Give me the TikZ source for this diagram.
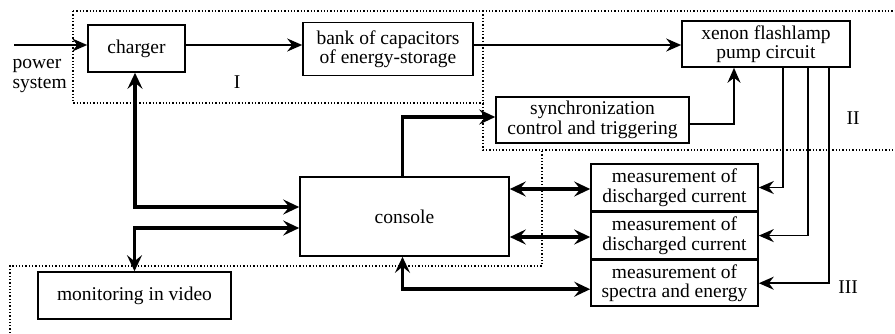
\documentclass[tikz,border=0pt]{standalone}
\usepackage{fontspec}
\setmainfont{Liberation Serif}
\usetikzlibrary{arrows.meta,positioning}

\begin{document}
\begin{tikzpicture}[
  x=1pt,y=-1pt,
  every node/.style={font=\fontsize{19.5}{19.5}\selectfont},
  block/.style={draw=black, line width=1.6pt, align=center, fill=white, inner sep=0pt},
  region/.style={draw=black, dotted, line width=1.3pt},
  arrow/.style={-{Stealth[length=15pt,width=13pt,inset=5pt]}, line width=1.6pt},
  thickarrow/.style={-{Stealth[length=16pt,width=15pt,inset=6pt]}, line width=3.5pt},
  bothways/.style={{Stealth[length=16pt,width=15pt,inset=6pt]}-{Stealth[length=16pt,width=15pt,inset=6pt]}, line width=3.5pt}
]
\useasboundingbox (0,0) rectangle (895,333);

% dotted regions I, II, III
\draw[region] (73,11) -- (895,11);
\draw[region] (73,11) -- (73,103) -- (483,103);
\draw[region] (483,11) -- (483,150) -- (895,150);
\draw[region] (10,333) -- (10,266) -- (542,266) -- (542,150);

\node[block, minimum width=97, minimum height=47] (charger) at (136.5,48.5) {charger};
\node[block, minimum width=170, minimum height=53] (bank) at (388,49) {bank of capacitors\\of energy-storage};
\node[block, minimum width=168, minimum height=46] (xenon) at (766,44) {xenon flashlamp\\pump circuit};
\node[block, minimum width=193, minimum height=46] (sync) at (592.5,120) {synchronization\\control and triggering};
\node[block, minimum width=209, minimum height=79] (console) at (404.5,216.5) {console};
\node[block, minimum width=167, minimum height=47] (meas1) at (674.5,187.5) {measurement of\\discharged current};
\node[block, minimum width=167, minimum height=46, anchor=north] (meas2) at (meas1.south) {measurement of\\discharged current};
\node[block, minimum width=167, minimum height=46, anchor=north] (meas3) at (meas2.south) {measurement of\\spectra and energy};
\node[block, minimum width=193, minimum height=47] (monitor) at (134.5,295.5) {monitoring in video};

\node[align=left, anchor=west] (power) at (9,76) {power\\system};
\node (regI) at (237,82) {I};
\node (regII) at (853,118) {II};
\node (regIII) at (848,287) {III};

\coordinate (pwr) at (14,45);
\draw[arrow] (pwr) -- (pwr -| charger.west);
\draw[arrow] (charger.east |- pwr) -- (pwr -| bank.west);
\draw[arrow] (bank.east |- pwr) -- (pwr -| xenon.west);
\draw[arrow] ([yshift=-4pt]sync.east) -| ([xshift=-32pt]xenon.south);

\draw[thickarrow] ([xshift=-2pt]console.north) |- ([yshift=3pt]sync.west);
\draw[bothways] ([xshift=-1.5pt]charger.south) |- ([yshift=9.5pt]console.west);
\draw[bothways] ([yshift=-11.5pt]console.west) -| (monitor.north);
\draw[bothways] ([yshift=27.5pt]console.east) -- ([yshift=27.5pt]console.east -| meas1.west);
\draw[bothways] ([yshift=-20.5pt]console.east) -- ([yshift=-20.5pt]console.east -| meas2.west);
\draw[bothways] ([xshift=-2pt]console.south) |- ([yshift=-6pt]meas3.west);

\draw[arrow] ([xshift=17pt]xenon.south) |- (meas1.east);
\draw[arrow] ([xshift=42pt]xenon.south) |- (meas2.east);
\draw[arrow] ([xshift=63pt]xenon.south) |- (meas3.east);
\end{tikzpicture}
\end{document}
